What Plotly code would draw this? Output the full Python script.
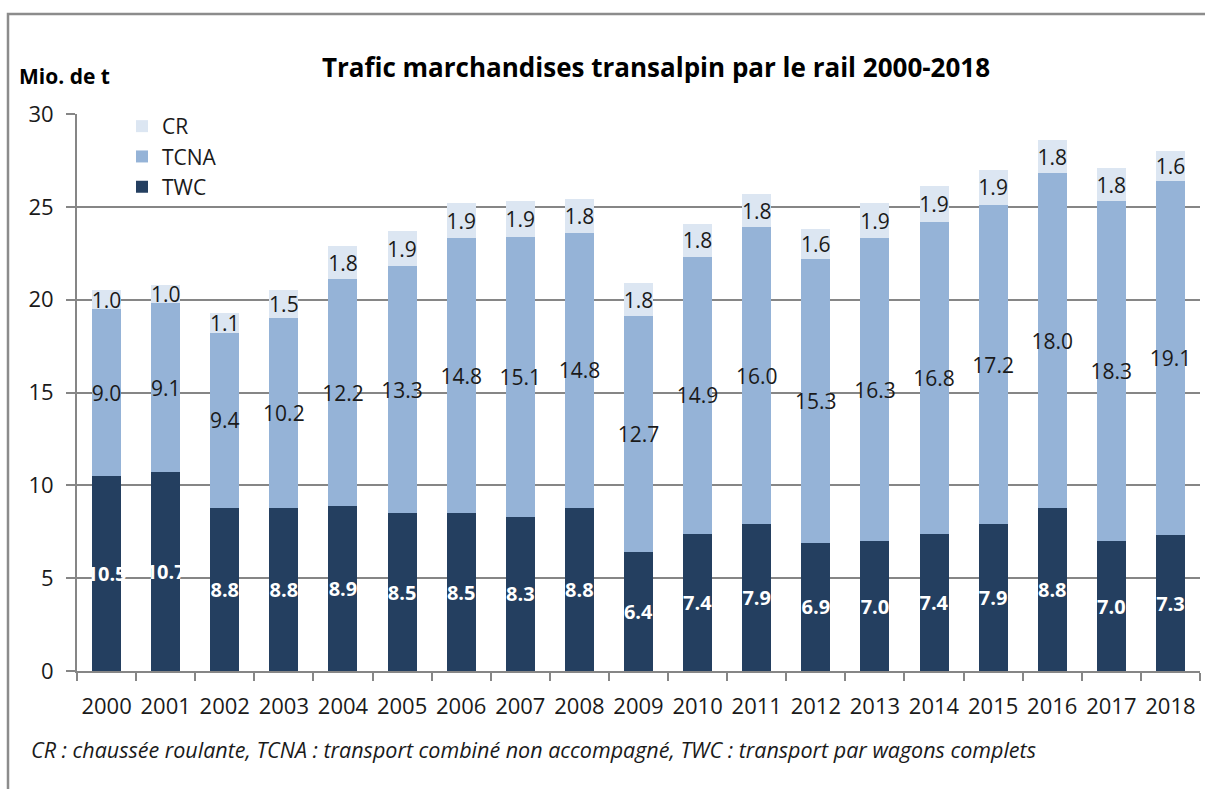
import plotly.graph_objects as go

years = [str(y) for y in range(2000, 2019)]
twc = [10.5, 10.7, 8.8, 8.8, 8.9, 8.5, 8.5, 8.3, 8.8, 6.4, 7.4, 7.9, 6.9, 7.0, 7.4, 7.9, 8.8, 7.0, 7.3]
tcna = [9.0, 9.1, 9.4, 10.2, 12.2, 13.3, 14.8, 15.1, 14.8, 12.7, 14.9, 16.0, 15.3, 16.3, 16.8, 17.2, 18.0, 18.3, 19.1]
cr = [1.0, 1.0, 1.1, 1.5, 1.8, 1.9, 1.9, 1.9, 1.8, 1.8, 1.8, 1.8, 1.6, 1.9, 1.9, 1.9, 1.8, 1.8, 1.6]

FONT = "Open Sans"
W, H = 1205, 789
ML, MR, MT, MB = 77, 5, 114, 118
PW = W - ML - MR
PH = H - MT - MB

def px_x(x):
    return (x - ML) / PW

def px_y(y):
    return (H - MB - y) / PH

fig = go.Figure()
series = [
    ("TWC", twc, "#243F60", "white", "<b>{:.1f}</b>", 20),
    ("TCNA", tcna, "#95B3D7", "#1a1a1a", "{:.1f}", 21),
    ("CR", cr, "#DCE6F2", "#1a1a1a", "{:.1f}", 21),
]
for name, vals, col, tcol, fmt, fs in series:
    fig.add_trace(go.Bar(
        x=years, y=vals, name=name,
        marker=dict(color=col, line=dict(width=0)),
        text=[fmt.format(v) for v in vals],
        textposition="inside", insidetextanchor="middle",
        constraintext="none", textangle=0,
        textfont=dict(family=FONT, size=fs, color=tcol),
        hoverinfo="skip",
    ))

fig.update_layout(
    width=W, height=H,
    margin=dict(l=ML, r=MR, t=MT, b=MB),
    barmode="stack", bargap=0.51,
    plot_bgcolor="white", paper_bgcolor="white",
    font=dict(family=FONT, size=20, color="#1a1a1a"),
    title=dict(text="<b>Trafic marchandises transalpin par le rail 2000-2018</b>",
               x=656 / W, xanchor="center", y=1 - 68 / H, yanchor="middle",
               font=dict(family=FONT, size=26, color="#000000")),
    legend=dict(x=px_x(122), y=px_y(106), xanchor="left", yanchor="top",
                traceorder="reversed", bgcolor="rgba(0,0,0,0)",
                font=dict(family=FONT, size=21, color="#1a1a1a")),
    showlegend=True,
    xaxis=dict(type="category", showline=True, linecolor="#868686", linewidth=2,
               ticks="outside", tickson="boundaries", ticklen=8, tickcolor="#868686", tickwidth=2,
               tickangle=0, ticklabelstandoff=15,
               tickfont=dict(family=FONT, size=22, color="#1a1a1a"), showgrid=False),
    yaxis=dict(range=[0, 30], dtick=5, showline=True, linecolor="#868686", linewidth=2,
               ticks="outside", ticklen=9, tickcolor="#868686", tickwidth=2,
               ticklabelstandoff=8,
               showgrid=True, gridcolor="#868686", gridwidth=2, zeroline=False,
               tickfont=dict(family=FONT, size=22, color="#1a1a1a")),
    shapes=[dict(type="rect", xref="paper", yref="paper",
                 x0=px_x(8), x1=px_x(1215), y0=px_y(800), y1=px_y(14),
                 line=dict(color="#8c8c8c", width=2.5), fillcolor="rgba(0,0,0,0)")],
    annotations=[
        dict(text="<b>Mio. de t</b>", xref="paper", yref="paper",
             x=px_x(17), y=px_y(76), xanchor="left", yanchor="middle", showarrow=False,
             font=dict(family=FONT, size=21, color="#000000")),
        dict(text="<i>CR : chaussée roulante, TCNA : transport combiné non accompagné, TWC : transport par wagons complets</i>",
             xref="paper", yref="paper", x=px_x(29), y=px_y(750), xanchor="left", yanchor="middle",
             showarrow=False, font=dict(family=FONT, size=21.5, color="#1a1a1a")),
    ],
)

fig.write_html("out.html", config={"displayModeBar": False},
               post_script="document.body.style.margin='0';document.body.style.overflow='hidden';")
